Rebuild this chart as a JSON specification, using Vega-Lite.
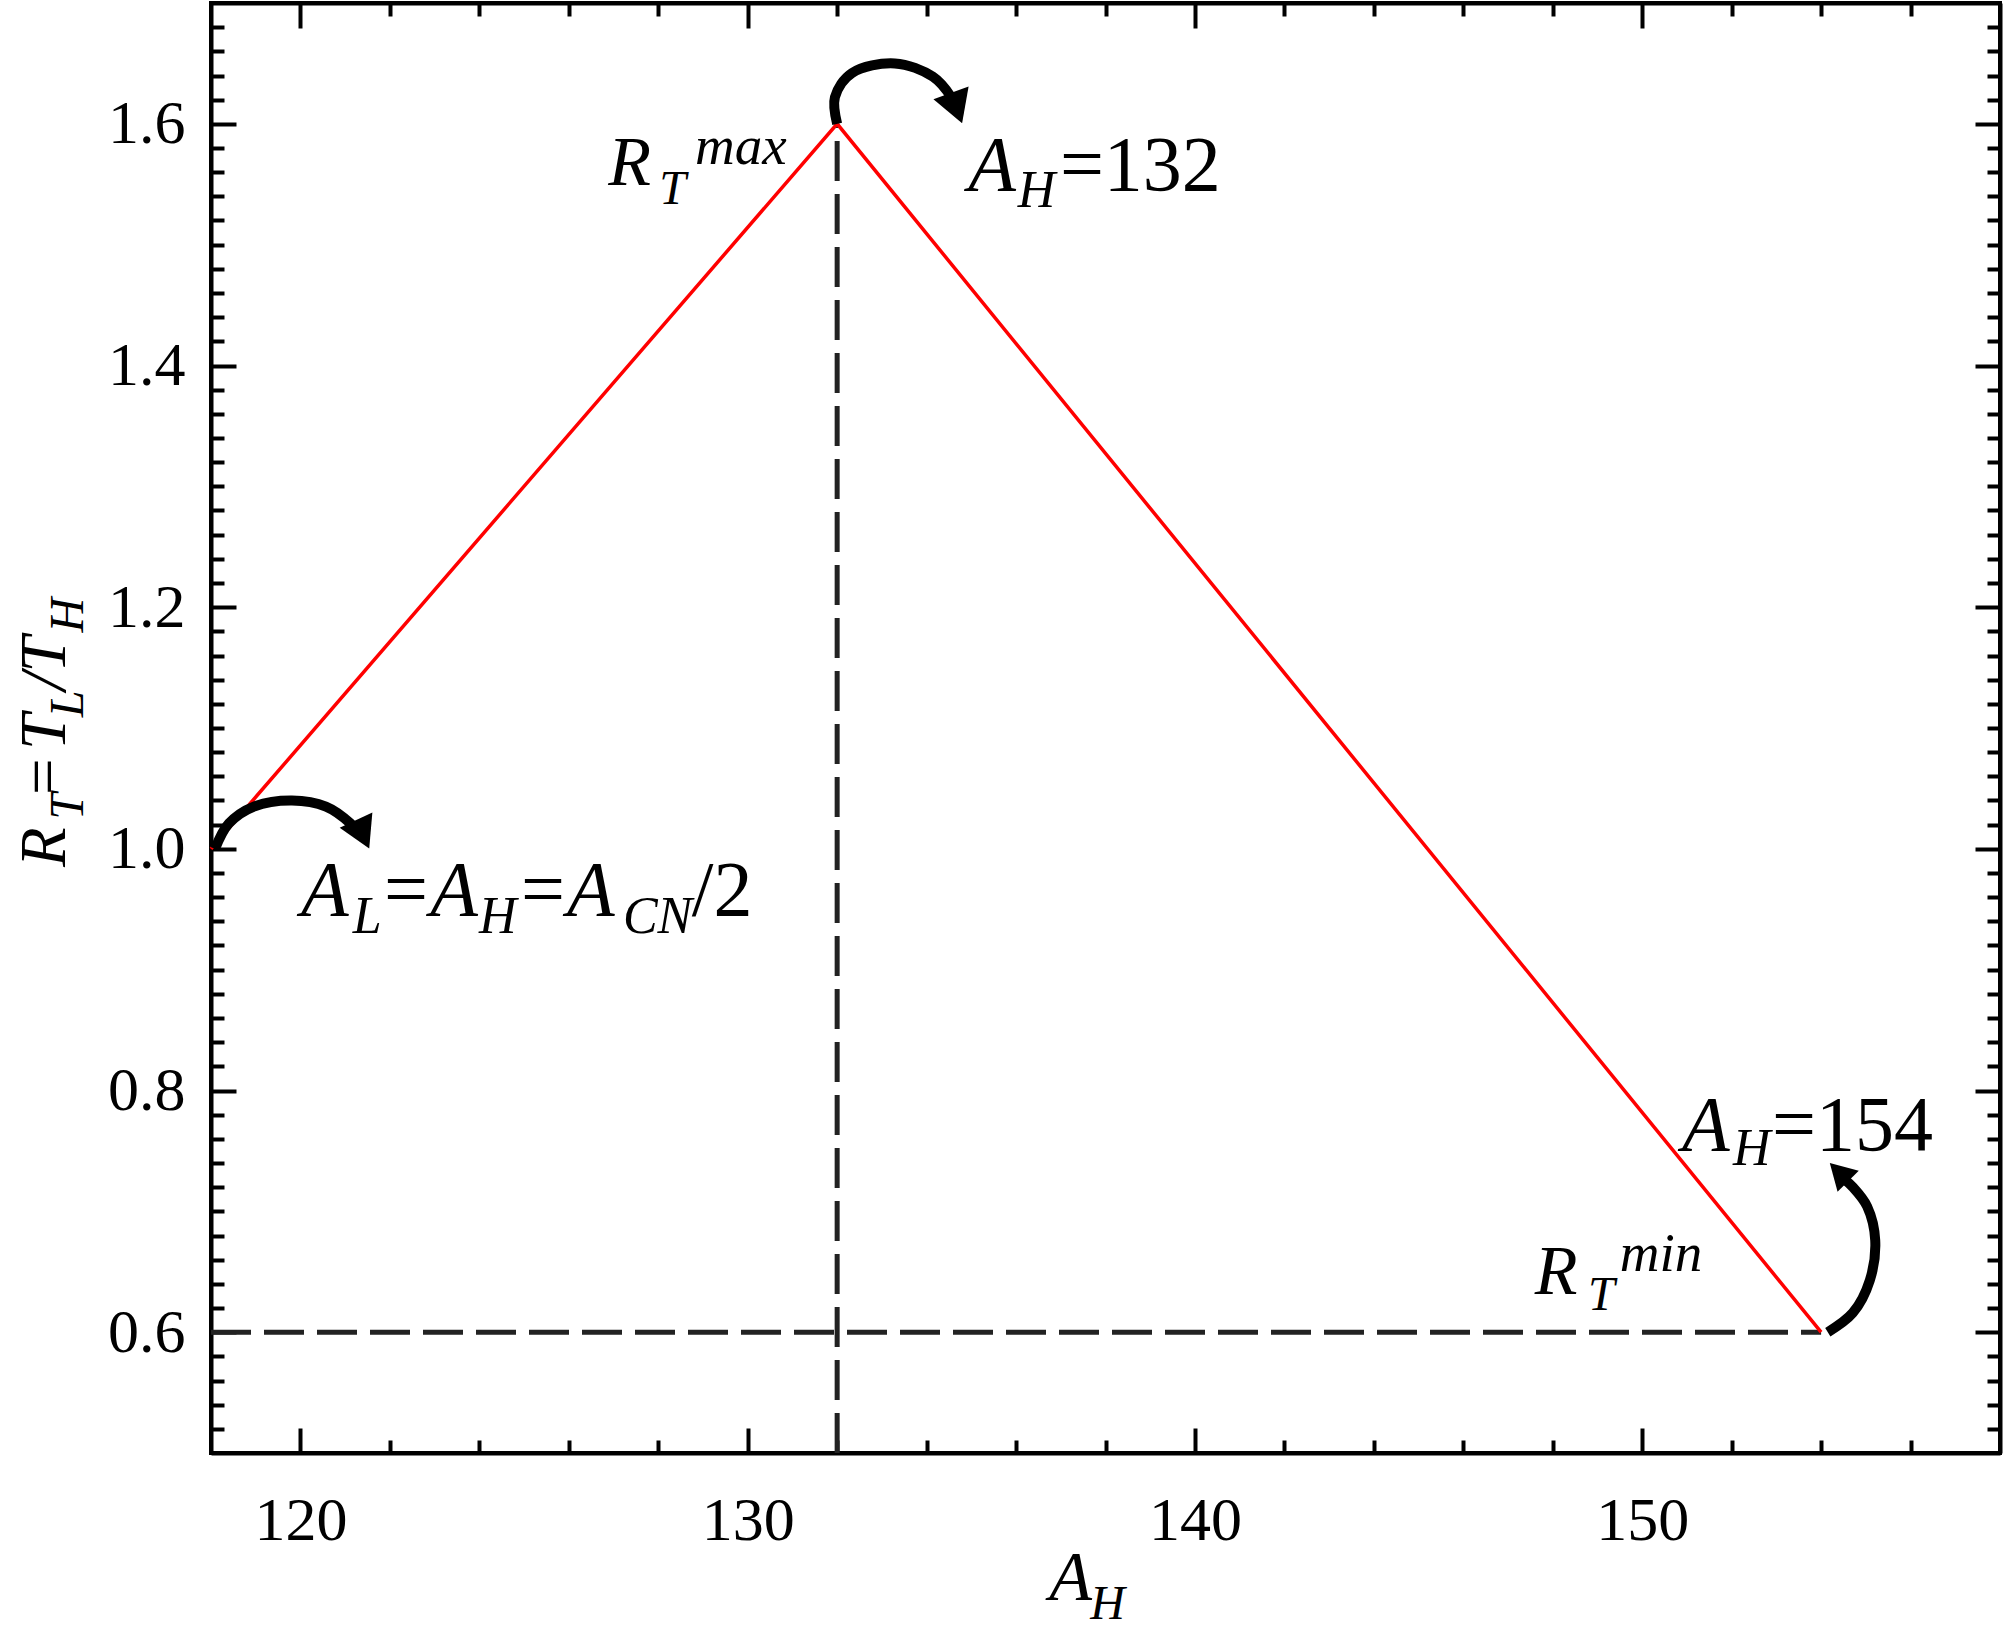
{
  "$schema": "https://vega.github.io/schema/vega-lite/v6.json",
  "autosize": {"type": "none"},
  "padding": {"left": 211, "top": 3, "right": 8, "bottom": 182},
  "width": 1789,
  "height": 1450,
  "background": "white",
  "datasets": {
    "curve": [
      {"x": 118, "y": 1.0},
      {"x": 132, "y": 1.6},
      {"x": 154, "y": 0.6}
    ],
    "guides": [
      {"x": 132, "x2": 132, "y": 0.5, "y2": 1.6},
      {"x": 118, "x2": 154, "y": 0.6, "y2": 0.6}
    ],
    "arrows": [
      {"a": 1, "i": 0, "x": 132.0, "y": 1.600},
      {"a": 1, "i": 1, "x": 131.95, "y": 1.622},
      {"a": 1, "i": 2, "x": 132.33, "y": 1.642},
      {"a": 1, "i": 3, "x": 133.29, "y": 1.650},
      {"a": 1, "i": 4, "x": 134.14, "y": 1.639},
      {"a": 1, "i": 5, "x": 134.55, "y": 1.622},
      {"a": 1, "i": 6, "x": 134.64, "y": 1.614},
      {"a": 2, "i": 0, "x": 118.09, "y": 1.000},
      {"a": 2, "i": 1, "x": 118.40, "y": 1.021},
      {"a": 2, "i": 2, "x": 118.96, "y": 1.035},
      {"a": 2, "i": 3, "x": 119.81, "y": 1.040},
      {"a": 2, "i": 4, "x": 120.57, "y": 1.035},
      {"a": 2, "i": 5, "x": 121.12, "y": 1.021},
      {"a": 2, "i": 6, "x": 121.30, "y": 1.013},
      {"a": 3, "i": 0, "x": 154.15, "y": 0.600},
      {"a": 3, "i": 1, "x": 154.71, "y": 0.616},
      {"a": 3, "i": 2, "x": 155.09, "y": 0.643},
      {"a": 3, "i": 3, "x": 155.21, "y": 0.676},
      {"a": 3, "i": 4, "x": 155.03, "y": 0.704},
      {"a": 3, "i": 5, "x": 154.71, "y": 0.720},
      {"a": 3, "i": 6, "x": 154.50, "y": 0.727}
    ],
    "head1": [{"x": 134.67, "y": 1.613}],
    "head2": [{"x": 121.39, "y": 1.012}],
    "head3": [{"x": 154.40, "y": 0.7325}],
    "annoItalic": [
      {"x": 134.93, "y": 1.545, "t": "A"},
      {"x": 120.01, "y": 0.945, "t": "A"},
      {"x": 122.90, "y": 0.945, "t": "A"},
      {"x": 125.96, "y": 0.945, "t": "A"},
      {"x": 150.89, "y": 0.751, "t": "A"}
    ],
    "annoUpright": [
      {"x": 136.98, "y": 1.545, "t": "=132"},
      {"x": 121.87, "y": 0.945, "t": "="},
      {"x": 124.93, "y": 0.945, "t": "="},
      {"x": 128.75, "y": 0.945, "t": "/2"},
      {"x": 152.90, "y": 0.751, "t": "=154"}
    ],
    "annoSub": [
      {"x": 136.04, "y": 1.531, "t": "H"},
      {"x": 121.17, "y": 0.930, "t": "L"},
      {"x": 123.99, "y": 0.930, "t": "H"},
      {"x": 127.21, "y": 0.930, "t": "CN"},
      {"x": 152.03, "y": 0.738, "t": "H"}
    ],
    "rMain": [
      {"x": 126.88, "y": 1.549, "t": "R"},
      {"x": 147.60, "y": 0.632, "t": "R"},
      {"x": 136.74, "y": 0.378, "t": "A"}
    ],
    "rSub": [
      {"x": 128.02, "y": 1.534, "t": "T"},
      {"x": 148.79, "y": 0.618, "t": "T"},
      {"x": 137.66, "y": 0.363, "t": "H"}
    ],
    "rSup": [
      {"x": 128.82, "y": 1.567, "t": "max"},
      {"x": 149.50, "y": 0.651, "t": "min"}
    ],
    "yTitleItalic": [
      {"x": 114.736, "y": 0.985, "t": "R"},
      {"x": 114.736, "y": 1.0818, "t": "T"},
      {"x": 114.736, "y": 1.131, "t": "/T"}
    ],
    "yTitleUpright": [
      {"x": 114.736, "y": 1.0445, "t": "="}
    ],
    "yTitleSub": [
      {"x": 115.138, "y": 1.024, "t": "T"},
      {"x": 115.138, "y": 1.109, "t": "L"},
      {"x": 115.138, "y": 1.179, "t": "H"}
    ]
  },
  "encoding": {
    "x": {"field": "x", "type": "quantitative", "scale": {"domain": [118, 158], "nice": false, "zero": false}, "axis": null},
    "y": {"field": "y", "type": "quantitative", "scale": {"domain": [0.5, 1.7], "nice": false, "zero": false}, "axis": null}
  },
  "layer": [
    {
      "data": {"name": "guides"},
      "mark": {"type": "rule", "color": "#222222", "strokeWidth": 5, "strokeDash": [40, 13]},
      "encoding": {
        "x": {"field": "x", "type": "quantitative", "scale": {"domain": [118, 158], "nice": false, "zero": false},
          "axis": {"orient": "top", "values": [120,122,124,126,128,130,132,134,136,138,140,142,144,146,148,150,152,154,156],
            "labels": false, "title": null, "grid": false, "domainColor": "black", "domainWidth": 4,
            "tickColor": "black", "tickWidth": 4,
            "tickSize": {"condition": {"test": "datum.value % 10 === 0", "value": -25}, "value": -13}}},
        "x2": {"field": "x2"},
        "y": {"field": "y", "type": "quantitative", "scale": {"domain": [0.5, 1.7], "nice": false, "zero": false},
          "axis": {"orient": "right", "values": [0.52,0.54,0.56,0.58,0.6,0.62,0.64,0.66,0.68,0.7,0.72,0.74,0.76,0.78,0.8,0.82,0.84,0.86,0.88,0.9,0.92,0.94,0.96,0.98,1.0,1.02,1.04,1.06,1.08,1.1,1.12,1.14,1.16,1.18,1.2,1.22,1.24,1.26,1.28,1.3,1.32,1.34,1.36,1.38,1.4,1.42,1.44,1.46,1.48,1.5,1.52,1.54,1.56,1.58,1.6,1.62,1.64,1.66,1.68],
            "labels": false, "title": null, "grid": false, "domainColor": "black", "domainWidth": 4,
            "tickColor": "black", "tickWidth": 4,
            "tickSize": {"condition": {"test": "abs(datum.value*5 - round(datum.value*5)) < 0.001", "value": -25}, "value": -13}}},
        "y2": {"field": "y2"}
      }
    },
    {
      "data": {"name": "curve"},
      "mark": {"type": "line", "color": "#ff0000", "strokeWidth": 3.5},
      "encoding": {
        "x": {"field": "x", "type": "quantitative", "scale": {"domain": [118, 158], "nice": false, "zero": false},
          "axis": {"orient": "bottom", "values": [120,122,124,126,128,130,132,134,136,138,140,142,144,146,148,150,152,154,156],
            "labelExpr": "datum.value % 10 === 0 ? datum.label : ''",
            "labelFont": "Liberation Serif", "labelFontSize": 62, "labelColor": "black", "labelPadding": 62,
            "labelOverlap": false, "labelFlush": false, "labelBound": false,
            "title": null, "grid": false, "domainColor": "black", "domainWidth": 4,
            "tickColor": "black", "tickWidth": 4,
            "tickSize": {"condition": {"test": "datum.value % 10 === 0", "value": -25}, "value": -13}}},
        "y": {"field": "y", "type": "quantitative", "scale": {"domain": [0.5, 1.7], "nice": false, "zero": false},
          "axis": {"orient": "left", "values": [0.52,0.54,0.56,0.58,0.6,0.62,0.64,0.66,0.68,0.7,0.72,0.74,0.76,0.78,0.8,0.82,0.84,0.86,0.88,0.9,0.92,0.94,0.96,0.98,1.0,1.02,1.04,1.06,1.08,1.1,1.12,1.14,1.16,1.18,1.2,1.22,1.24,1.26,1.28,1.3,1.32,1.34,1.36,1.38,1.4,1.42,1.44,1.46,1.48,1.5,1.52,1.54,1.56,1.58,1.6,1.62,1.64,1.66,1.68],
            "labelExpr": "abs(datum.value*5 - round(datum.value*5)) < 0.001 ? format(datum.value, '.1f') : ''",
            "labelFont": "Liberation Serif", "labelFontSize": 62, "labelColor": "black", "labelPadding": 51,
            "labelOverlap": false, "labelFlush": false, "labelBound": false,
            "title": null, "grid": false, "domainColor": "black", "domainWidth": 4,
            "tickColor": "black", "tickWidth": 4,
            "tickSize": {"condition": {"test": "abs(datum.value*5 - round(datum.value*5)) < 0.001", "value": -25}, "value": -13}}}
      }
    },
    {
      "data": {"name": "arrows"},
      "mark": {"type": "line", "color": "black", "strokeWidth": 10, "interpolate": "catmull-rom", "strokeCap": "butt"},
      "encoding": {
        "detail": {"field": "a", "type": "nominal"},
        "order": {"field": "i", "type": "quantitative"}
      }
    },
    {
      "data": {"name": "head1"},
      "mark": {"type": "point", "shape": "triangle-up", "filled": true, "color": "black", "opacity": 1, "size": 1400, "angle": 160}
    },
    {
      "data": {"name": "head2"},
      "mark": {"type": "point", "shape": "triangle-up", "filled": true, "color": "black", "opacity": 1, "size": 1300, "angle": 155}
    },
    {
      "data": {"name": "head3"},
      "mark": {"type": "point", "shape": "triangle-up", "filled": true, "color": "black", "opacity": 1, "size": 900, "angle": 315}
    },
    {
      "data": {"name": "annoItalic"},
      "mark": {"type": "text", "font": "Liberation Serif", "fontStyle": "italic", "fontSize": 78, "align": "left", "baseline": "alphabetic", "color": "black"},
      "encoding": {"text": {"field": "t"}}
    },
    {
      "data": {"name": "annoUpright"},
      "mark": {"type": "text", "font": "Liberation Serif", "fontSize": 78, "align": "left", "baseline": "alphabetic", "color": "black"},
      "encoding": {"text": {"field": "t"}}
    },
    {
      "data": {"name": "annoSub"},
      "mark": {"type": "text", "font": "Liberation Serif", "fontStyle": "italic", "fontSize": 52, "align": "left", "baseline": "alphabetic", "color": "black"},
      "encoding": {"text": {"field": "t"}}
    },
    {
      "data": {"name": "rMain"},
      "mark": {"type": "text", "font": "Liberation Serif", "fontStyle": "italic", "fontSize": 70, "align": "left", "baseline": "alphabetic", "color": "black"},
      "encoding": {"text": {"field": "t"}}
    },
    {
      "data": {"name": "rSub"},
      "mark": {"type": "text", "font": "Liberation Serif", "fontStyle": "italic", "fontSize": 48, "align": "left", "baseline": "alphabetic", "color": "black"},
      "encoding": {"text": {"field": "t"}}
    },
    {
      "data": {"name": "rSup"},
      "mark": {"type": "text", "font": "Liberation Serif", "fontStyle": "italic", "fontSize": 55, "align": "left", "baseline": "alphabetic", "color": "black"},
      "encoding": {"text": {"field": "t"}}
    },
    {
      "data": {"name": "yTitleItalic"},
      "mark": {"type": "text", "font": "Liberation Serif", "fontStyle": "italic", "fontSize": 65, "align": "left", "baseline": "alphabetic", "angle": 270, "color": "black"},
      "encoding": {"text": {"field": "t"}}
    },
    {
      "data": {"name": "yTitleUpright"},
      "mark": {"type": "text", "font": "Liberation Serif", "fontSize": 65, "align": "left", "baseline": "alphabetic", "angle": 270, "color": "black"},
      "encoding": {"text": {"field": "t"}}
    },
    {
      "data": {"name": "yTitleSub"},
      "mark": {"type": "text", "font": "Liberation Serif", "fontStyle": "italic", "fontSize": 48, "align": "left", "baseline": "alphabetic", "angle": 270, "color": "black"},
      "encoding": {"text": {"field": "t"}}
    }
  ],
  "resolve": {"axis": {"x": "independent", "y": "independent"}},
  "config": {
    "view": {"stroke": "black", "strokeWidth": 4}
  }
}
